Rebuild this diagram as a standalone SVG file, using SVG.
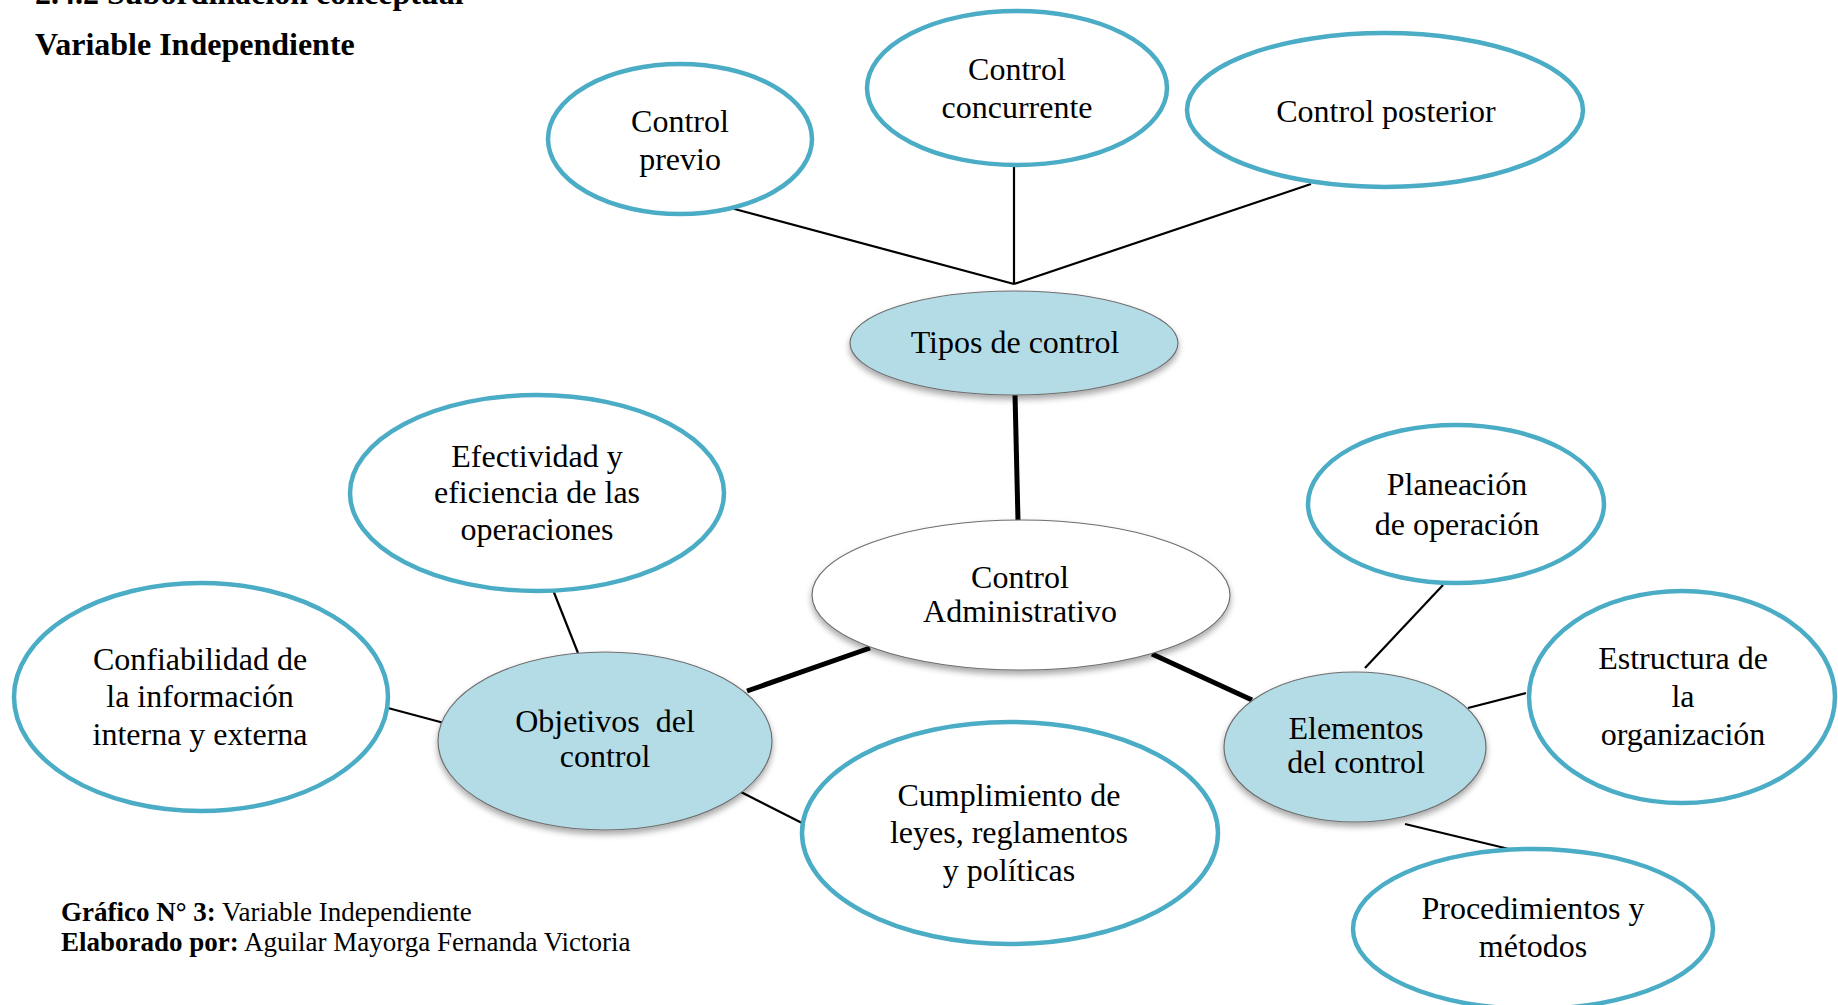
<svg xmlns="http://www.w3.org/2000/svg" width="1838" height="1005" viewBox="0 0 1838 1005">
  <style>
    .t { font-family: "Liberation Serif", "Times New Roman", serif; font-size: 32px; fill: #000; text-anchor: middle; }
    .hd { font-family: "Liberation Serif", "Times New Roman", serif; font-size: 32px; font-weight: bold; fill: #000; }
    .cap { font-family: "Liberation Serif", "Times New Roman", serif; font-size: 27px; fill: #000; }
    .cap .b { font-weight: bold; }
    .leaf { fill: #fff; stroke: #4bacc6; stroke-width: 4.5; }
    .hub { fill: #b4dce7; stroke: #6e6e6e; stroke-width: 1.2; filter: url(#shadow); }
    .core { fill: #fff; stroke: #6e6e6e; stroke-width: 1.2; filter: url(#shadow); }
    .thin { stroke: #000; stroke-width: 2.2; fill: none; }
    .thick { stroke: #000; stroke-width: 5; fill: none; }
  </style>
  <defs>
    <filter id="shadow" x="-10%" y="-10%" width="120%" height="130%">
      <feDropShadow dx="0" dy="4" stdDeviation="3" flood-color="#000" flood-opacity="0.35"/>
    </filter>
  </defs>

  <rect width="1838" height="1005" fill="#fff"/>

  <!-- headings -->
  <text class="hd" x="35" y="4">2.4.2 Subordinación conceptual</text>
  <text class="hd" x="35" y="55">Variable Independiente</text>

  <!-- connectors -->
  <g id="connectors">
    <line class="thin" x1="727" y1="207" x2="1014" y2="284"/>
    <line class="thin" x1="1014" y1="166" x2="1014" y2="284"/>
    <line class="thin" x1="1311" y1="184" x2="1014" y2="284"/>
    <line class="thick" x1="1015" y1="394" x2="1018" y2="521"/>
    <line class="thick" x1="870" y1="648" x2="747" y2="691"/>
    <line class="thick" x1="1152" y1="654" x2="1252" y2="700"/>
    <line class="thin" x1="553" y1="590" x2="578" y2="653"/>
    <line class="thin" x1="388" y1="708" x2="444" y2="723"/>
    <line class="thin" x1="735" y1="789" x2="804" y2="824"/>
    <line class="thin" x1="1443" y1="585" x2="1365" y2="668"/>
    <line class="thin" x1="1526" y1="693" x2="1468" y2="708"/>
    <line class="thin" x1="1405" y1="824" x2="1509" y2="849"/>
  </g>

  <!-- types branch -->
  <g id="control-previo">
    <ellipse class="leaf" cx="680" cy="139" rx="132" ry="75"/>
    <text class="t" x="680" y="132">Control</text>
    <text class="t" x="680" y="170">previo</text>
  </g>
  <g id="control-concurrente">
    <ellipse class="leaf" cx="1017" cy="88" rx="150" ry="77"/>
    <text class="t" x="1017" y="80">Control</text>
    <text class="t" x="1017" y="118">concurrente</text>
  </g>
  <g id="control-posterior">
    <ellipse class="leaf" cx="1385" cy="110" rx="198" ry="77"/>
    <text class="t" x="1386" y="122">Control posterior</text>
  </g>
  <g id="tipos-de-control">
    <ellipse class="hub" cx="1014" cy="343" rx="164" ry="52"/>
    <text class="t" x="1015" y="353">Tipos de control</text>
  </g>

  <!-- central concept -->
  <g id="control-administrativo">
    <ellipse class="core" cx="1021" cy="595" rx="209" ry="75"/>
    <text class="t" x="1020" y="588">Control</text>
    <text class="t" x="1020" y="622">Administrativo</text>
  </g>

  <!-- objectives branch -->
  <g id="efectividad">
    <ellipse class="leaf" cx="537" cy="493" rx="187" ry="98"/>
    <text class="t" x="537" y="467">Efectividad y</text>
    <text class="t" x="537" y="503">eficiencia de las</text>
    <text class="t" x="537" y="540">operaciones</text>
  </g>
  <g id="confiabilidad">
    <ellipse class="leaf" cx="201" cy="697" rx="187" ry="114"/>
    <text class="t" x="200" y="670">Confiabilidad de</text>
    <text class="t" x="200" y="707">la información</text>
    <text class="t" x="200" y="745">interna y externa</text>
  </g>
  <g id="objetivos-del-control">
    <ellipse class="hub" cx="605" cy="741" rx="167" ry="89"/>
    <text class="t" x="605" y="732" word-spacing="8">Objetivos del</text>
    <text class="t" x="605" y="767">control</text>
  </g>
  <g id="cumplimiento">
    <ellipse class="leaf" cx="1010" cy="833" rx="208" ry="111"/>
    <text class="t" x="1009" y="806">Cumplimiento de</text>
    <text class="t" x="1009" y="843">leyes, reglamentos</text>
    <text class="t" x="1009" y="881">y políticas</text>
  </g>

  <!-- elements branch -->
  <g id="planeacion">
    <ellipse class="leaf" cx="1456" cy="504" rx="148" ry="79"/>
    <text class="t" x="1457" y="495">Planeación</text>
    <text class="t" x="1457" y="535">de operación</text>
  </g>
  <g id="estructura">
    <ellipse class="leaf" cx="1682" cy="697" rx="153" ry="106"/>
    <text class="t" x="1683" y="669">Estructura de</text>
    <text class="t" x="1683" y="707">la</text>
    <text class="t" x="1683" y="745">organización</text>
  </g>
  <g id="elementos-del-control">
    <ellipse class="hub" cx="1355" cy="747" rx="131" ry="75"/>
    <text class="t" x="1356" y="739">Elementos</text>
    <text class="t" x="1356" y="773">del control</text>
  </g>
  <g id="procedimientos">
    <ellipse class="leaf" cx="1533" cy="929" rx="180" ry="80"/>
    <text class="t" x="1533" y="919">Procedimientos y</text>
    <text class="t" x="1533" y="957">métodos</text>
  </g>

  <!-- caption -->
  <text class="cap" x="61" y="921"><tspan class="b">Gráfico N° 3:</tspan> Variable Independiente</text>
  <text class="cap" x="61" y="951"><tspan class="b">Elaborado por:</tspan> Aguilar Mayorga Fernanda Victoria</text>
</svg>
